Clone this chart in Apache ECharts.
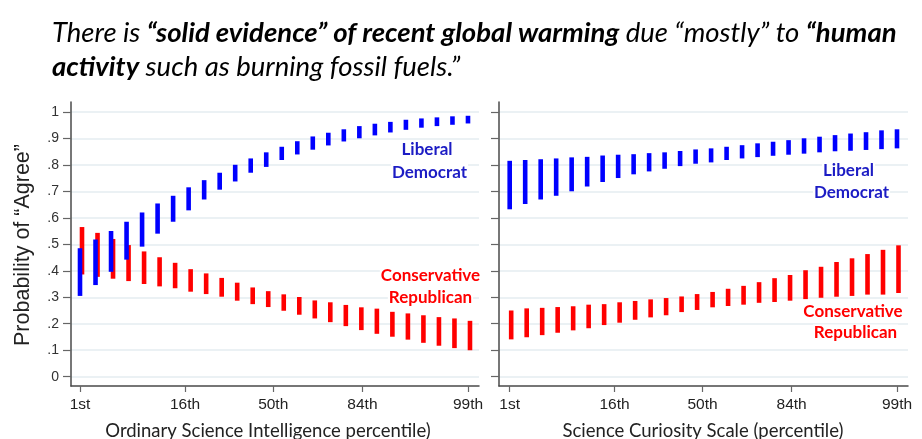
<!DOCTYPE html>
<html><head><meta charset="utf-8">
<script src="https://cdn.jsdelivr.net/npm/echarts@6/dist/echarts.min.js"></script>
<style>html,body{margin:0;padding:0;background:#fff}#c{width:922px;height:439px}</style>
</head><body><div id="c"></div>
<script>
// ---- data ----
const xTickPos = [0, 6.77, 12.45, 18.2, 25];
const xTickLabels = ['1st', '16th', '50th', '84th', '99th'];
const yTicks = [0, 0.1, 0.2, 0.3, 0.4, 0.5, 0.6, 0.7, 0.8, 0.9, 1];
const yTickLabels = ['0', '.1', '.2', '.3', '.4', '.5', '.6', '.7', '.8', '.9', '1'];

// Left panel: Ordinary Science Intelligence
const osiDemLow  = [0.305,0.346,0.396,0.442,0.491,0.540,0.585,0.628,0.669,0.706,0.737,0.770,0.792,0.818,0.839,0.857,0.873,0.888,0.900,0.911,0.922,0.932,0.940,0.946,0.951,0.956];
const osiDemHigh = [0.485,0.518,0.550,0.585,0.620,0.654,0.683,0.715,0.742,0.770,0.800,0.824,0.847,0.868,0.889,0.907,0.921,0.934,0.946,0.955,0.962,0.970,0.975,0.979,0.983,0.985];
const osiRepLow  = [0.386,0.377,0.370,0.361,0.350,0.341,0.334,0.321,0.312,0.302,0.287,0.274,0.263,0.249,0.234,0.220,0.206,0.191,0.176,0.162,0.151,0.140,0.128,0.117,0.108,0.100];
const osiRepHigh = [0.565,0.543,0.520,0.497,0.473,0.451,0.430,0.406,0.390,0.373,0.355,0.337,0.323,0.311,0.301,0.288,0.281,0.271,0.262,0.257,0.245,0.239,0.232,0.225,0.220,0.211];

// Right panel: Science Curiosity Scale
const sciDemLow  = [0.632,0.652,0.669,0.683,0.700,0.718,0.735,0.750,0.764,0.775,0.785,0.795,0.804,0.809,0.818,0.824,0.829,0.834,0.838,0.842,0.847,0.851,0.853,0.856,0.859,0.862];
const sciDemHigh = [0.815,0.818,0.821,0.824,0.828,0.830,0.835,0.838,0.840,0.844,0.847,0.852,0.858,0.862,0.868,0.874,0.881,0.887,0.893,0.900,0.906,0.912,0.918,0.923,0.930,0.934];
const sciRepLow  = [0.141,0.149,0.157,0.166,0.175,0.183,0.195,0.204,0.215,0.224,0.232,0.244,0.252,0.262,0.267,0.272,0.279,0.282,0.287,0.293,0.298,0.302,0.305,0.310,0.310,0.316];
const sciRepHigh = [0.250,0.258,0.260,0.263,0.266,0.272,0.274,0.281,0.286,0.292,0.297,0.303,0.312,0.320,0.332,0.343,0.357,0.372,0.384,0.402,0.415,0.433,0.447,0.463,0.479,0.496];

// ---- build ----
function rows(lo, hi) { return lo.map((v, i) => [i, v, hi[i]]); }
const BLUE = '#0000ff', RED = '#ff0000', DBLUE = '#1c1cc4';
function makeRender(color, off, w) {
  return function (params, api) {
    const x = api.value(0), lo = api.value(1), hi = api.value(2);
    const pTop = api.coord([x, hi]);
    const pBot = api.coord([x, lo]);
    return { type: 'rect',
      shape: { x: pTop[0] - w / 2 + off, y: pTop[1], width: w, height: pBot[1] - pTop[1] },
      style: { fill: color } };
  };
}
function series(idx, lo, hi, color, off) {
  return { type: 'custom', xAxisIndex: idx, yAxisIndex: idx, data: rows(lo, hi),
    renderItem: makeRender(color, off, 4.6), silent: true, z: 3 };
}
const axisLineStyle = { color: '#4a4a4a', width: 1.5 };
const tickStyle = { color: '#666', width: 1.2 };
function xAxis(gridIndex, min) {
  return { type: 'value', gridIndex, min, max: 25.71,
    axisLine: { show: true, lineStyle: axisLineStyle, onZero: false },
    axisTick: { show: true, customValues: xTickPos, length: 6, lineStyle: tickStyle },
    axisLabel: { customValues: xTickPos, margin: 11, color: '#222',
      fontFamily: '"Liberation Sans Narrow", "Arial Narrow", "Liberation Sans", sans-serif', fontSize: 15.5,
      formatter: v => { const k = xTickPos.findIndex(t => Math.abs(t - v) < 1e-6); return k >= 0 ? xTickLabels[k] : ''; } },
    splitLine: { show: false } };
}
function yAxis(gridIndex, showLabels) {
  return { type: 'value', gridIndex, min: -0.035, max: 1.037,
    axisLine: { show: true, lineStyle: axisLineStyle, onZero: false },
    axisTick: { show: true, customValues: yTicks, length: 8, lineStyle: tickStyle },
    axisLabel: { show: showLabels, customValues: yTicks, margin: 12, color: '#333',
      fontFamily: '"Liberation Sans", Arial, sans-serif', fontSize: 14,
      formatter: v => { const k = yTicks.findIndex(t => Math.abs(t - v) < 1e-6); return k >= 0 ? yTickLabels[k] : ''; } },
    splitLine: { show: true, lineStyle: { color: '#e4ecf1', width: 1.6 } } };
}
const txtFont = 'Lato, "Open Sans", sans-serif';
function label(x, y, text, color) {
  return { type: 'text', x, y, z: 100, style: { text, fill: color, font: 'bold 17px ' + txtFont,
    align: 'center', verticalAlign: 'middle', backgroundColor: '#fff', padding: [0, 1] } };
}
const chart = echarts.init(document.getElementById('c'));
chart.setOption({
  animation: false,
  backgroundColor: '#fff',
  grid: [
    { left: 71, top: 102, width: 408, bottom: 53 },
    { left: 499, top: 102, width: 409, bottom: 53 }
  ],
  xAxis: [xAxis(0, -0.58), xAxis(1, -0.69)],
  yAxis: [yAxis(0, true), yAxis(1, false)],
  series: [
    series(0, osiRepLow, osiRepHigh, RED, 2),
    series(0, osiDemLow, osiDemHigh, BLUE, 0),
    series(1, sciRepLow, sciRepHigh, RED, 1.5),
    series(1, sciDemLow, sciDemHigh, BLUE, 0)
  ],
  graphic: [
    { type: 'text', x: 52, y: 33, style: {
        text: '{i|There is }{b|“solid evidence” of recent global warming}{i| due “mostly” to }{b|“human}',
        verticalAlign: 'middle',
        rich: { i: { font: 'italic 27.5px ' + txtFont, fill: '#000' }, b: { font: 'italic bold 27.5px ' + txtFont, fill: '#000' } } } },
    { type: 'text', x: 52, y: 67, style: {
        text: '{b|activity}{i| such as burning fossil fuels.”}',
        verticalAlign: 'middle',
        rich: { i: { font: 'italic 27.5px ' + txtFont, fill: '#000' }, b: { font: 'italic bold 27.5px ' + txtFont, fill: '#000' } } } },
    { type: 'text', x: 23, y: 245, rotation: Math.PI / 2, style: {
        text: 'Probability of “Agree”', font: '21.5px "Liberation Sans", Arial, sans-serif', fill: '#222', align: 'center', verticalAlign: 'middle' } },
    { type: 'text', x: 268, y: 431, style: { text: 'Ordinary Science Intelligence percentile)', font: '18.5px ' + txtFont, fill: '#222', align: 'center', verticalAlign: 'middle' } },
    { type: 'text', x: 703, y: 431, style: { text: 'Science Curiosity Scale (percentile)', font: '18.5px ' + txtFont, fill: '#222', align: 'center', verticalAlign: 'middle' } },
    label(427, 150, 'Liberal', DBLUE),
    label(429.5, 172.5, 'Democrat', DBLUE),
    label(430.5, 275.5, 'Conservative', RED),
    label(430.5, 298, 'Republican', RED),
    label(848.5, 170.5, 'Liberal', DBLUE),
    label(851.5, 192.5, 'Democrat', DBLUE),
    label(853, 311.5, 'Conservative', RED),
    label(855.5, 333, 'Republican', RED)
  ]
});
</script></body></html>
